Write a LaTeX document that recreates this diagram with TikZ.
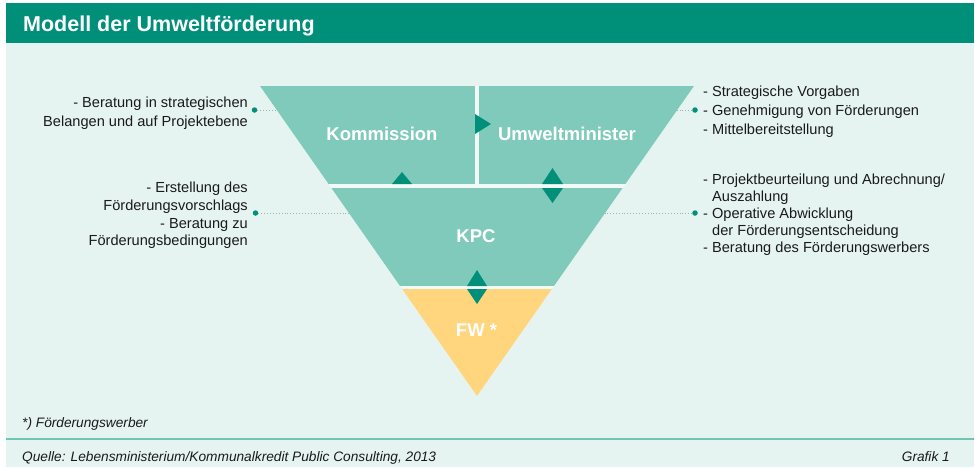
\documentclass[tikz,border=0pt]{standalone}
\usepackage{fontspec}
\setmainfont{Liberation Sans}
\definecolor{titlegreen}{HTML}{00907A}
\definecolor{bgmint}{HTML}{E6F4F1}
\definecolor{secteal}{HTML}{80CABC}
\definecolor{fwyellow}{HTML}{FFD57E}
\definecolor{gapwhite}{HTML}{F2FAF8}
\definecolor{footline}{HTML}{6CC5B5}
\definecolor{dotline}{HTML}{9AB5AF}
\definecolor{txt}{HTML}{1A1A1A}
\begin{document}
\begin{tikzpicture}[x=1pt,y=-1pt,
  sect/.style={font=\fontsize{18.5}{20}\selectfont\bfseries, text=white, inner sep=0pt, anchor=base},
  lbl/.style={font=\fontsize{14.6}{17}\selectfont, text=txt, inner sep=0pt},
  lblL/.style={lbl, anchor=base east},
  lblR/.style={lbl, anchor=base west},
  foot/.style={font=\fontsize{13.7}{16}\selectfont\itshape, text=txt, inner sep=0pt},
  marker/.style={fill=titlegreen},
  dotc/.style={circle, fill=titlegreen, inner sep=0pt, minimum size=5.5pt},
  leader/.style={dotline, line width=0.9pt, dotted}]

\useasboundingbox (0,0) rectangle (975,467);
\fill[white] (0,0) rectangle (975,467);
\fill[bgmint] (6,3) rectangle (974,467);
\fill[titlegreen] (6,3) rectangle (974,43);
\node[font=\fontsize{21.5}{24}\selectfont\bfseries, text=white, anchor=base west, inner sep=0pt] (title) at (23,31.5) {Modell der Umweltförderung};

% triangle
\coordinate (A) at (260,86);
\coordinate (B) at (694,86);
\coordinate (C) at (477,396);
\begin{scope}
  \clip (A) -- (B) -- (C) -- cycle;
  \fill[gapwhite] (0,80) rectangle (975,400);
  \fill[secteal] (0,86) rectangle (475,184);
  \fill[secteal] (479,86) rectangle (975,184);
  \fill[secteal] (0,188) rectangle (975,286);
  \fill[fwyellow] (0,289) rectangle (975,400);
\end{scope}

% markers
\fill[marker] (475,114) -- (475,134) -- (491,124) -- cycle;
\fill[marker] (392,184) -- (412,184) -- (402,172) -- cycle;
\fill[marker] (542,184) -- (563,184) -- (552.5,168) -- cycle;
\fill[marker] (542,188) -- (563,188) -- (552.5,203) -- cycle;
\fill[marker] (467,286) -- (487,286) -- (477,270) -- cycle;
\fill[marker] (467,289) -- (487,289) -- (477,304) -- cycle;

% section labels
\node[sect] (kom) at (382,140) {Kommission};
\node[sect] (umw) at (567,140) {Umweltminister};
\node[sect] (kpc) at (476,242) {KPC};
\node[sect] (fw) at (476.5,336) {FW *};

% leaders and dots
\coordinate (e1) at (277,110);
\coordinate (e2) at (349,213);
\coordinate (e3) at (677,110);
\coordinate (e4) at (605,213);
\node[dotc] (d1) at (254.5,110) {};
\node[dotc] (d2) at (255.5,213) {};
\node[dotc] (d3) at (695,110) {};
\node[dotc] (d4) at (695,213) {};
\draw[leader] (d1) -- (e1);
\draw[leader] (d2) -- (e2);
\draw[leader] (d3) -- (e3);
\draw[leader] (d4) -- (e4);

% left texts
\node[lblL] (l1) at (248,107) {- Beratung in strategischen};
\node[lblL] (l2) at (248,126) {Belangen und auf Projektebene};
\node[lblL] (l3) at (248,192) {- Erstellung des};
\node[lblL] (l4) at (248,210) {Förderungsvorschlags};
\node[lblL] (l5) at (248,228) {- Beratung zu};
\node[lblL] (l6) at (248,245.5) {Förderungsbedingungen};

% right texts
\node[lblR] (r1) at (703,96) {- Strategische Vorgaben};
\node[lblR] (r2) at (703,115) {- Genehmigung von Förderungen};
\node[lblR] (r3) at (703,134) {- Mittelbereitstellung};
\node[lblR] (r4) at (703,184) {- Projektbeurteilung und Abrechnung/};
\node[lblR] (r5) at (712,201.5) {Auszahlung};
\node[lblR] (r6) at (703,218.5) {- Operative Abwicklung};
\node[lblR] (r7) at (712,235.5) {der Förderungsentscheidung};
\node[lblR] (r8) at (703,252.5) {- Beratung des Förderungswerbers};

% footer
\node[foot, anchor=base west] (fn) at (22,427) {*) Förderungswerber};
\draw[footline, line width=2.5pt] (6,439) -- (974,439);
\node[foot, anchor=base west] (src) at (22,461) {Quelle: Lebensministerium/Kommunalkredit Public Consulting, 2013};
\node[foot, anchor=base east] (graf) at (950,461) {Grafik 1};
\end{tikzpicture}
\end{document}
